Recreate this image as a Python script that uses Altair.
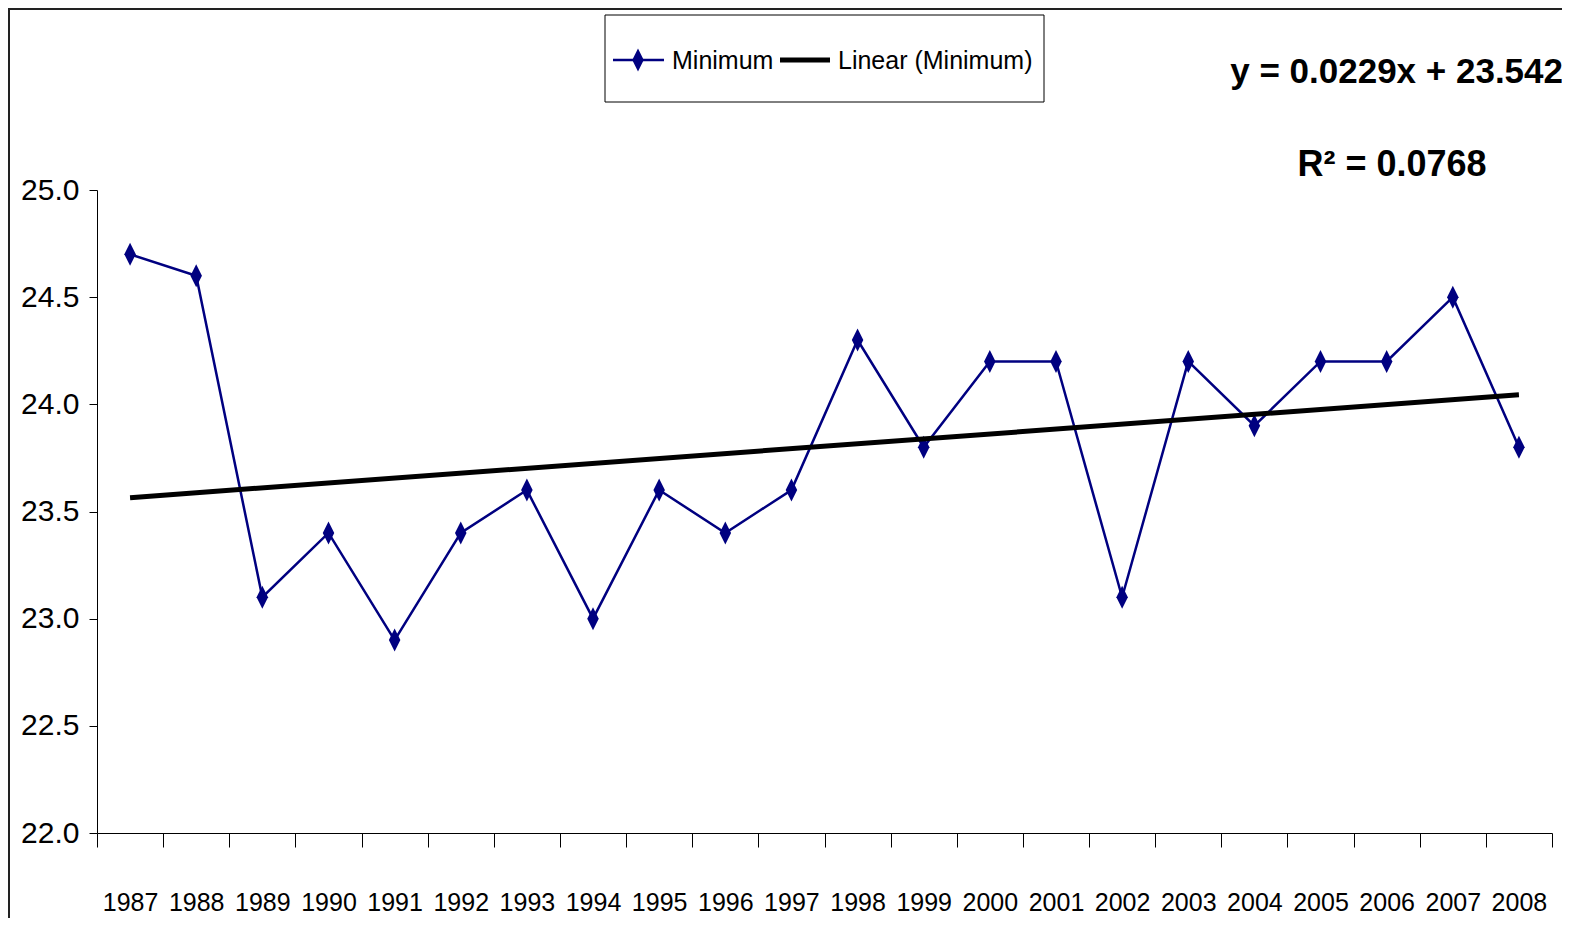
import altair as alt
import pandas as pd

years = list(range(1987, 2009))
minimum = [24.7, 24.6, 23.1, 23.4, 22.9, 23.4, 23.6, 23.0, 23.6, 23.4, 23.6,
           24.3, 23.8, 24.2, 24.2, 23.1, 24.2, 23.9, 24.2, 24.2, 24.5, 23.8]
y_ticks = [22.0, 22.5, 23.0, 23.5, 24.0, 24.5, 25.0]
series_name = "Minimum"
trend_name = "Linear (Minimum)"
equation = "y = 0.0229x + 23.542"
r2_text = "R\u00b2 = 0.0768"

df = pd.DataFrame({"year": years, "value": minimum})

FONT = "Liberation Sans, Arial, sans-serif"
NAVY = "#000080"
DIAMOND = "M0,-1L0.5,0L0,1L-0.5,0Z"

x_enc = alt.X(
    "year:O",
    scale=alt.Scale(type="band", paddingInner=0, paddingOuter=0),
    bandPosition=0.5,
    axis=alt.Axis(title=None, labelAngle=0, tickBand="extent", tickSize=14,
                  labelPadding=43, labelFontSize=25, labelFont=FONT,
                  labelColor="black", domainColor="black", tickColor="black",
                  domainWidth=1, tickWidth=1),
)
y_enc = alt.Y(
    "value:Q",
    scale=alt.Scale(domain=[22, 25], nice=False, zero=False),
    axis=alt.Axis(title=None, values=y_ticks, format=".1f", grid=False,
                  tickSize=8, labelPadding=10, labelFontSize=30, labelFont=FONT,
                  labelColor="black", domainColor="black", tickColor="black",
                  domainWidth=1, tickWidth=1),
)

base = alt.Chart(df)
series_line = base.mark_line(color=NAVY, strokeWidth=2.5).encode(x=x_enc, y=y_enc)
series_pts = base.mark_point(shape=DIAMOND, filled=True, color=NAVY, size=529,
                             opacity=1).encode(x=x_enc, y=y_enc)
trend = base.transform_regression("year", "value").mark_line(
    color="black", strokeWidth=5).encode(x=x_enc, y=y_enc)

one = alt.Chart(pd.DataFrame({"k": [0]}))
frame_left = one.mark_rule(color="#222222", strokeWidth=2).encode(
    x=alt.value(-88), y=alt.value(-182), y2=alt.value(740))
frame_top = one.mark_rule(color="#222222", strokeWidth=2).encode(
    x=alt.value(-89), x2=alt.value(1470), y=alt.value(-181))
leg_box = one.mark_rect(fill="white", stroke="black", strokeWidth=1).encode(
    x=alt.value(508), x2=alt.value(947), y=alt.value(-175), y2=alt.value(-88))
leg_line1 = one.mark_rule(color=NAVY, strokeWidth=2.5).encode(
    x=alt.value(516), x2=alt.value(567), y=alt.value(-130))
leg_pt = one.mark_point(shape=DIAMOND, filled=True, color=NAVY, size=529,
                        opacity=1).encode(x=alt.value(541), y=alt.value(-130))
leg_txt1 = one.mark_text(align="left", baseline="alphabetic", fontSize=25,
                         font=FONT, color="black").encode(
    x=alt.value(575), y=alt.value(-121), text=alt.value(series_name))
leg_line2 = one.mark_rule(color="black", strokeWidth=5).encode(
    x=alt.value(683), x2=alt.value(733), y=alt.value(-130))
leg_txt2 = one.mark_text(align="left", baseline="alphabetic", fontSize=25,
                         font=FONT, color="black").encode(
    x=alt.value(741), y=alt.value(-121), text=alt.value(trend_name))
eq_txt = one.mark_text(align="right", baseline="alphabetic", fontSize=35,
                       fontWeight="bold", font=FONT, color="black").encode(
    x=alt.value(1466), y=alt.value(-107), text=alt.value(equation))
r2_txt = one.mark_text(align="center", baseline="alphabetic", fontSize=36,
                       fontWeight="bold", font=FONT, color="black").encode(
    x=alt.value(1295), y=alt.value(-14), text=alt.value(r2_text))

chart = alt.layer(
    series_line, series_pts, trend, frame_left, frame_top,
    leg_box, leg_line1, leg_pt, leg_txt1, leg_line2, leg_txt2, eq_txt, r2_txt,
).properties(
    width=1455, height=643,
    autosize=alt.AutoSizeParams(type="none"),
    padding={"left": 89, "top": 182, "right": 10, "bottom": 85},
    background="white",
).configure_view(stroke=None)

chart.save("out.html", embed_options={"renderer": "svg", "actions": False})
